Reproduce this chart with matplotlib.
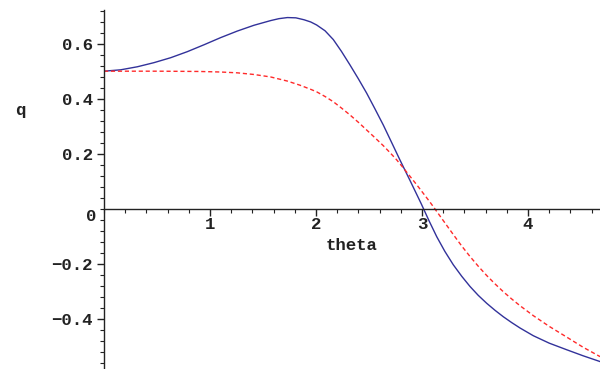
import matplotlib
matplotlib.use("Agg")
import matplotlib.pyplot as plt
from matplotlib.ticker import MultipleLocator, FixedLocator

theta_blue = [0.0, 0.157, 0.314, 0.471, 0.629, 0.786, 0.943, 1.10, 1.258, 1.415, 1.572, 1.65, 1.73,
              1.81, 1.887, 1.95, 2.006, 2.085, 2.163, 2.24, 2.32, 2.40, 2.478, 2.556, 2.635, 2.713,
              2.792, 2.89, 2.99, 3.065, 3.139, 3.215, 3.295, 3.375, 3.453, 3.53, 3.61, 3.69, 3.767,
              3.845, 3.925, 4.05, 4.2, 4.365, 4.52, 4.68]
q_blue = [0.500, 0.505, 0.516, 0.531, 0.549, 0.571, 0.596, 0.622, 0.646, 0.667, 0.684, 0.691, 0.695,
          0.694, 0.687, 0.679, 0.668, 0.647, 0.615, 0.572, 0.523, 0.472, 0.420, 0.363, 0.304, 0.241,
          0.177, 0.100, 0.020, -0.043, -0.102, -0.155, -0.204, -0.246, -0.283, -0.315, -0.344,
          -0.370, -0.393, -0.414, -0.434, -0.462, -0.489, -0.513, -0.535, -0.556]

theta_red = [0.0, 0.5, 0.9, 1.1, 1.258, 1.415, 1.572, 1.73, 1.849, 1.95, 2.006, 2.085, 2.163, 2.24,
             2.32, 2.40, 2.478, 2.556, 2.635, 2.70, 2.76, 2.82, 2.95, 3.075, 3.12, 3.2, 3.295, 3.375,
             3.453, 3.53, 3.61, 3.69, 3.767, 3.845, 3.925, 4.05, 4.2, 4.365, 4.52, 4.68]
q_red = [0.500, 0.500, 0.499, 0.497, 0.494, 0.488, 0.479, 0.464, 0.449, 0.434, 0.425, 0.408, 0.389,
         0.366, 0.341, 0.314, 0.286, 0.258, 0.229, 0.203, 0.178, 0.150, 0.087, 0.024, 0.0, -0.043,
         -0.094, -0.136, -0.174, -0.209, -0.243, -0.274, -0.302, -0.328, -0.353, -0.389, -0.428,
         -0.467, -0.504, -0.538]

FONT = "Liberation Mono"
fs = 12.5

fig = plt.figure(figsize=(6.0, 3.69), dpi=100)
ax = fig.add_axes([104/600, 0.0, 1 - 104/600, (369 - 10)/369])

ax.plot(theta_blue, q_blue, color="#32329a", lw=1.0)
ax.plot(theta_red, q_red, color="#ff2a2a", lw=1.0, dashes=(3, 2))

ax.set_xlim(0, 4.679)
ax.set_ylim(-0.583, 0.7225)

for s in ["top", "right"]:
    ax.spines[s].set_visible(False)
ax.spines["left"].set_position(("data", 0))
ax.spines["bottom"].set_position(("data", 0))
for s in ["left", "bottom"]:
    ax.spines[s].set_linewidth(1.0)
    ax.spines[s].set_color("#222222")

ax.xaxis.set_major_locator(FixedLocator([1, 2, 3, 4]))
ax.xaxis.set_minor_locator(MultipleLocator(0.2))
ax.yaxis.set_major_locator(FixedLocator([-0.4, -0.2, 0.2, 0.4, 0.6]))
ax.yaxis.set_minor_locator(MultipleLocator(0.04))
ax.tick_params(axis="both", which="major", length=5, width=1.0, color="#222222", direction="out")
ax.tick_params(axis="both", which="minor", length=3, width=0.8, color="#222222", direction="out")
ax.tick_params(axis="y", pad=3)
ax.tick_params(axis="x", pad=1)

ax.set_xticklabels(["1", "2", "3", "4"])
ax.set_yticklabels(["\u22120.4", "\u22120.2", "0.2", "0.4", "0.6"])
for lab in ax.get_xticklabels() + ax.get_yticklabels():
    lab.set_fontfamily(FONT)
    lab.set_fontweight("bold")
    lab.set_fontsize(fs)
    lab.set_color("#222222")

ax.text(-0.07, 0.0, "0", transform=ax.transData, ha="right", va="top",
        fontfamily=FONT, fontweight="bold", fontsize=fs, color="#222222")

fig.text(20/600, 1 - 110/369, "q", ha="center", va="center",
         fontfamily=FONT, fontweight="bold", fontsize=fs, color="#222222")
fig.text(352/600, 1 - 245/369, "theta", ha="center", va="center",
         fontfamily=FONT, fontweight="bold", fontsize=fs, color="#222222")

fig.savefig("out.png", dpi=100)
